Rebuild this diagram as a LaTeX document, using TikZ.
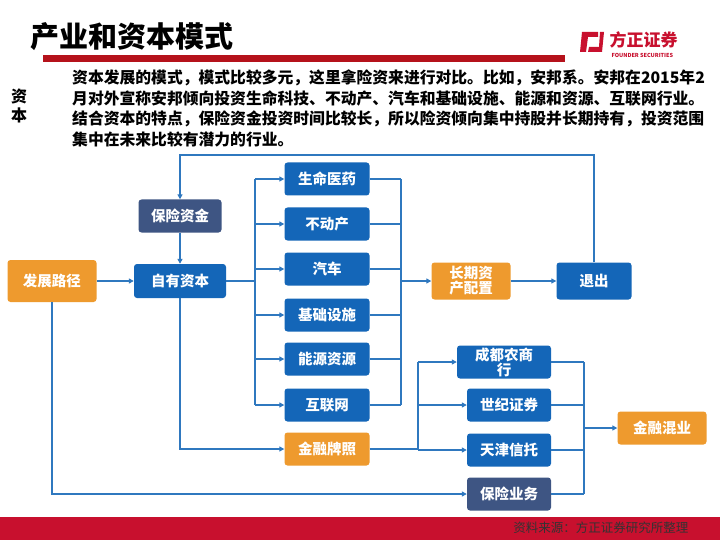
\documentclass[tikz,border=0pt]{standalone}
\usepackage{fontspec}
\setmainfont{Noto Sans CJK SC}
\usetikzlibrary{arrows.meta}
\definecolor{bx}{HTML}{1466B8}
\definecolor{og}{HTML}{EE9A2E}
\definecolor{sl}{HTML}{3E5583}
\definecolor{ln}{HTML}{2F78BF}
\definecolor{rd}{HTML}{C8102E}
\definecolor{drd}{HTML}{B5121B}
\begin{document}
\begin{tikzpicture}[x=1pt,y=-1pt,
  box/.style={rounded corners=3pt,text=white,font=\fontsize{14.5}{15}\selectfont\bfseries,align=center,inner sep=0pt},
  bb/.style={box,fill=bx},
  ob/.style={box,fill=og},
  sb/.style={box,fill=sl},
  ar/.style={draw=ln,line width=1.4pt,-{Triangle[length=5pt,width=5pt]}},
  ln/.style={draw=ln,line width=1.4pt}]
\useasboundingbox (0,0) rectangle (720,540);
\fill[white] (0,0) rectangle (720,540);
% header
\node[anchor=west,font=\fontsize{29}{32}\selectfont\bfseries] (title) at (27,37) {产业和资本模式};
\fill[drd] (43,55) rectangle (565,62);
\fill[rd] (582,32) -- (598,32) -- (598,37) -- (588,37) -- (586,52) -- (580,52) -- cycle;
\fill[rd] (600,32) -- (604,32) -- (602,52) -- (588,52) -- (589,47) -- (599,47) -- cycle;
\node[anchor=west,text=rd,font=\fontsize{17}{18}\selectfont\bfseries] (logo) at (606,40) {方正证券};
\node[anchor=west,text=rd,font=\fontsize{5.5}{6}\selectfont\bfseries] (logo2) at (608,55) {FOUNDER SECURITIES};
\node[font=\fontsize{16}{19}\selectfont\bfseries,align=center] (side) at (19,106) {资\\本};
\node[anchor=north west,font=\fontsize{15.8}{20.5}\selectfont\bfseries,align=left,inner sep=0pt] (para) at (72,70) {资本发展的模式，模式比较多元，这里拿险资来进行对比。比如，安邦系。安邦在2015年2\\月对外宣称安邦倾向投资生命科技、不动产、汽车和基础设施、能源和资源、互联网行业。\\结合资本的特点，保险资金投资时间比较长，所以险资倾向集中持股并长期持有，投资范围\\集中在未来比较有潜力的行业。};
% footer
\fill[rd] (0,517) rectangle (720,540);
\node[anchor=east,text=black!80,font=\fontsize{12.5}{13}\selectfont] (src) at (692,528) {资料来源：方正证券研究所整理};
% nodes
\node[ob,minimum width=89pt,minimum height=42pt] (fz) at (52,281) {发展路径};
\node[bb,minimum width=92pt,minimum height=34pt] (zy) at (180,281) {自有资本};
\node[sb,minimum width=83pt,minimum height=33pt] (bx) at (180,216) {保险资金};
\foreach \n/\t/\y in {a/生命医药/179,b/不动产/224,c/汽车/269,d/基础设施/315,e/能源资源/359,f/互联网/405}
  \node[bb,minimum width=85pt,minimum height=33pt] (\n) at (327,\y) {\t};
\node[ob,minimum width=85pt,minimum height=33pt] (jr) at (327,449) {金融牌照};
\node[ob,minimum width=79pt,minimum height=37pt] (cq) at (471,281) {长期资\\产配置};
\node[bb,minimum width=75pt,minimum height=37pt] (tc) at (594,281) {退出};
\node[bb,minimum width=94pt,minimum height=33pt] (cd) at (504,362) {成都农商\\行};
\node[bb,minimum width=84pt,minimum height=33pt] (sj) at (509,405) {世纪证券};
\node[bb,minimum width=84pt,minimum height=33pt] (tj) at (509,450) {天津信托};
\node[sb,minimum width=84pt,minimum height=33pt] (bw) at (509,494) {保险业务};
\node[ob,minimum width=89pt,minimum height=33pt] (hy) at (662,428) {金融混业};
% connectors
\draw[ar] (fz) -- (zy);
\draw[ar] (bx) -- (zy);
\draw[ar] (tc.north) -- (594,155) -| (bx.north);
\draw[ln] (zy.east) -- (255,281);
\draw[ln] (255,179) -- (255,405);
\foreach \n in {a,b,c,d,e,f} {\draw[ar] (255,0 |- \n.west) -- (\n.west); \draw[ln] (\n.east) -- (401,0 |- \n.east);}
\draw[ln] (401,179) -- (401,405);
\draw[ar] (401,281) -- (cq.west);
\draw[ar] (cq) -- (tc);
\draw[ar] (zy.south) |- (jr.west);
\draw[ln] (jr.east) -- (418,449);
\draw[ln] (418,362) -- (418,449);
\foreach \n in {cd,sj,tj} {\draw[ar] (418,0 |- \n.west) -- (\n.west);}
\draw[ar] (fz.south) |- (bw.west);
\foreach \n in {cd,sj,tj,bw} {\draw[ln] (\n.east) -- (584,0 |- \n.east);}
\draw[ln] (584,362) -- (584,494);
\draw[ar] (584,428) -- (hy.west);
\end{tikzpicture}
\end{document}
